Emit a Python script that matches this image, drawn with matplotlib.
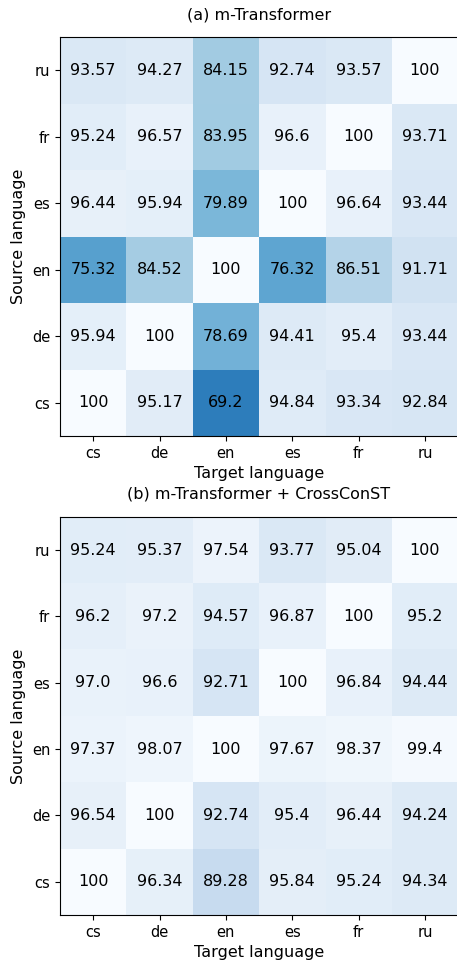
import numpy as np
import matplotlib
matplotlib.use("Agg")
import matplotlib.pyplot as plt

langs = ['cs', 'de', 'en', 'es', 'fr', 'ru']

# rows = source (cs..ru), cols = target (cs..ru)
base_scores = [
    [100, 95.17, 69.2, 94.84, 93.34, 92.84],     # cs
    [95.94, 100, 78.69, 94.41, 95.4, 93.44],     # de
    [75.32, 84.52, 100, 76.32, 86.51, 91.71],    # en
    [96.44, 95.94, 79.89, 100, 96.64, 93.44],    # es
    [95.24, 96.57, 83.95, 96.6, 100, 93.71],     # fr
    [93.57, 94.27, 84.15, 92.74, 93.57, 100],    # ru
]
crossconst_scores = [
    [100, 96.34, 89.28, 95.84, 95.24, 94.34],    # cs
    [96.54, 100, 92.74, 95.4, 96.44, 94.24],     # de
    [97.37, 98.07, 100, 97.67, 98.37, 99.4],     # en
    [97.0, 96.6, 92.71, 100, 96.84, 94.44],      # es
    [96.2, 97.2, 94.57, 96.87, 100, 95.2],       # fr
    [95.24, 95.37, 97.54, 93.77, 95.04, 100],    # ru
]
titles = ['(a) m-Transformer', '(b) m-Transformer + CrossConST']


def draw_heatmap(ax, scores, title):
    data = np.array(scores, dtype=float)
    ax.imshow(data, cmap='Blues_r', vmin=56, vmax=100, origin='lower', aspect='auto')
    for i, row in enumerate(scores):
        for j, v in enumerate(row):
            ax.text(j, i, str(v), ha='center', va='center',
                    fontsize=11.5, color='black')
    ax.set_xticks(range(len(langs)))
    ax.set_xticklabels(langs, fontsize=10.5)
    ax.set_yticks(range(len(langs)))
    ax.set_yticklabels(langs, fontsize=10.5)
    ax.set_xlabel('Target language', fontsize=11.5)
    ax.set_ylabel('Source language', fontsize=11.5)
    ax.set_title(title, fontsize=11.5, pad=13)


fig = plt.figure(figsize=(4.57, 9.6), dpi=100)
ax1 = fig.add_axes([0.1313, 0.5458, 0.871, 0.4156])
ax2 = fig.add_axes([0.1313, 0.0469, 0.871, 0.4146])
draw_heatmap(ax1, base_scores, titles[0])
draw_heatmap(ax2, crossconst_scores, titles[1])

fig.savefig('out.png', dpi=100)
